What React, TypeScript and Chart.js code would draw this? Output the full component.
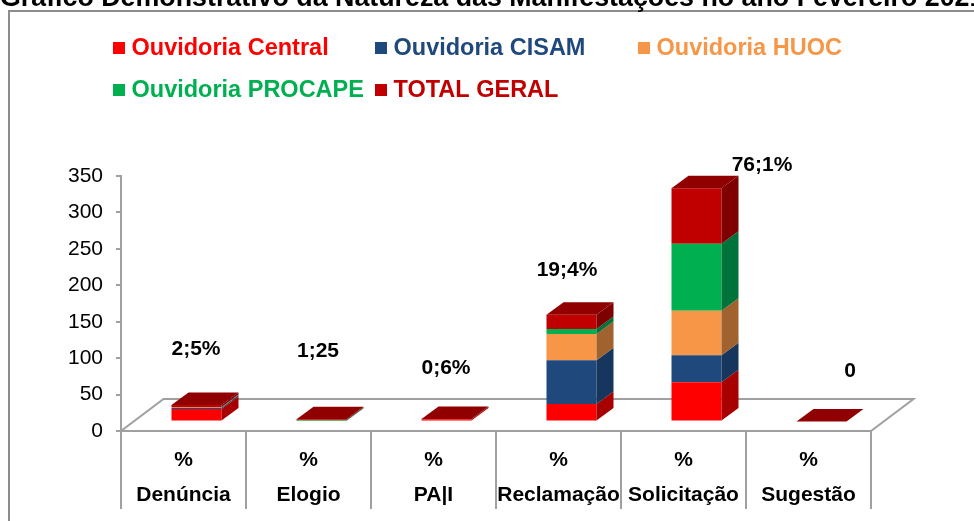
import React, { useEffect, useRef } from "react";
import { Chart, registerables } from "chart.js";

Chart.register(...registerables);

// ---------- data ----------
const TITLE = "Gráfico Demonstrativo da Natureza das Manifestações no ano Fevereiro 2021";
const CATEGORIES = ["Denúncia", "Elogio", "PA|I", "Reclamação", "Solicitação", "Sugestão"];
const CATEGORY_PREFIX = "%";
const SERIES_NAMES = ["Ouvidoria Central", "Ouvidoria CISAM", "Ouvidoria HUOC", "Ouvidoria PROCAPE", "TOTAL GERAL"];
const CENTRAL = [17, 0, 3, 24, 54, 0];
const CISAM = [2, 0, 0, 60, 37, 0];
const HUOC = [1, 1, 0, 36, 61, 0];
const PROCAPE = [0, 1, 0, 7, 92, 0];
const TOTAL_GERAL = [2.5, 1.25, 0.6, 19.4, 76.1, 0];
const TOTAL_LABELS = ["2;5%", "1;25", "0;6%", "19;4%", "76;1%", "0"];
const Y_MIN = 0;
const Y_MAX = 350;
const Y_STEP = 50;

// ---------- styles ----------
const FONT = "'Liberation Sans', Arial, sans-serif";
const FRONT = ["#FF0000", "#1F497D", "#F79646", "#00B050", "#C00000"];
const SIDE = ["#A80000", "#17365D", "#A0622E", "#00733A", "#7E0000"];
const TOPC = ["#D00000", "#1A3D68", "#C97A38", "#009444", "#900000"];
const AXIS_GRAY = "#A0A0A0";
const BAR_SHIFT = { x: 13, y: -9.5 };
const BAR_DEPTH = { x: 17, y: -12.5 };
const FLOOR_DEPTH = { x: 42.5, y: -32 };
const LABEL_OFFSETS = [
  [-0.5, -56],
  [-3.5, -68],
  [-0.5, -51],
  [-4.5, -45],
  [65.5, -23],
  [28.5, -50],
];
const LEGEND_COLS = [113, 375, 638];
const LEGEND_ROWS = [55, 97];

const pseudo3d = {
  id: "pseudo3d",
  beforeDraw(chart: any) {
    const ctx = chart.ctx as CanvasRenderingContext2D;
    ctx.save();
    ctx.fillStyle = "#ffffff";
    ctx.fillRect(0, 0, chart.width, chart.height);
    ctx.strokeStyle = "#8C8C8C";
    ctx.lineWidth = 2;
    ctx.strokeRect(9, 11, chart.width + 50, chart.height + 50);
    // title
    ctx.fillStyle = "#000";
    ctx.font = `bold 26.8px ${FONT}`;
    ctx.textAlign = "left";
    ctx.textBaseline = "alphabetic";
    ctx.fillText(TITLE, 0, 6);
    // legend
    ctx.font = `bold 23.5px ${FONT}`;
    SERIES_NAMES.forEach((name, i) => {
      const x = LEGEND_COLS[i % 3];
      const y = LEGEND_ROWS[Math.floor(i / 3)];
      ctx.fillStyle = FRONT[i];
      ctx.fillRect(x, y - 13, 12, 12);
      ctx.fillText(name, x + 18.5, y);
    });
    ctx.restore();
  },
  beforeDatasetsDraw(chart: any) {
    const ctx = chart.ctx as CanvasRenderingContext2D;
    const a = chart.chartArea;
    ctx.save();
    ctx.beginPath();
    ctx.moveTo(a.left, a.bottom);
    ctx.lineTo(a.right, a.bottom);
    ctx.lineTo(a.right + FLOOR_DEPTH.x, a.bottom + FLOOR_DEPTH.y);
    ctx.lineTo(a.left + FLOOR_DEPTH.x, a.bottom + FLOOR_DEPTH.y);
    ctx.closePath();
    ctx.fillStyle = "#fff";
    ctx.fill();
    ctx.strokeStyle = AXIS_GRAY;
    ctx.lineWidth = 2;
    ctx.stroke();
    ctx.restore();
    ctx.save();
    ctx.translate(BAR_SHIFT.x, BAR_SHIFT.y);
  },
  afterDatasetsDraw(chart: any) {
    const ctx = chart.ctx as CanvasRenderingContext2D;
    const n = chart.data.labels.length;
    const metas = chart.data.datasets.map((_: any, i: number) => chart.getDatasetMeta(i));
    const tops: { x: number; y: number }[] = [];
    for (let j = 0; j < n; j++) {
      metas.forEach((meta: any, d: number) => {
        const el = meta.data[j];
        const { x, y, base, width } = el.getProps(["x", "y", "base", "width"], true);
        const r = x + width / 2;
        const top = Math.min(y, base);
        const bot = Math.max(y, base);
        if (bot - top > 0) {
          ctx.fillStyle = SIDE[d];
          ctx.beginPath();
          ctx.moveTo(r, bot);
          ctx.lineTo(r, top);
          ctx.lineTo(r + BAR_DEPTH.x, top + BAR_DEPTH.y);
          ctx.lineTo(r + BAR_DEPTH.x, bot + BAR_DEPTH.y);
          ctx.closePath();
          ctx.fill();
        }
      });
      const lastIdx = metas.length - 1;
      const el = metas[lastIdx].data[j];
      const { x, y, base, width } = el.getProps(["x", "y", "base", "width"], true);
      const l = x - width / 2;
      const r = x + width / 2;
      const top = Math.min(y, base);
      ctx.fillStyle = TOPC[lastIdx];
      ctx.beginPath();
      ctx.moveTo(l, top);
      ctx.lineTo(l + BAR_DEPTH.x, top + BAR_DEPTH.y);
      ctx.lineTo(r + BAR_DEPTH.x, top + BAR_DEPTH.y);
      ctx.lineTo(r, top);
      ctx.closePath();
      ctx.fill();
      tops.push({ x: x + BAR_SHIFT.x, y: top + BAR_SHIFT.y });
    }
    ctx.restore();
    // data labels
    ctx.save();
    ctx.fillStyle = "#000";
    ctx.font = `bold 21px ${FONT}`;
    ctx.textAlign = "center";
    ctx.textBaseline = "middle";
    tops.forEach((t, j) => {
      const [dx, dy] = LABEL_OFFSETS[j];
      ctx.fillText(TOTAL_LABELS[j], t.x + dx, t.y + dy);
    });
    ctx.restore();
  },
};

export default function App() {
  const ref = useRef<HTMLCanvasElement>(null);
  useEffect(() => {
    document.body.style.margin = "0";
    const canvas = ref.current!;
    const series = [CENTRAL, CISAM, HUOC, PROCAPE, TOTAL_GERAL];
    const chart = new Chart(canvas, {
      type: "bar",
      data: {
        labels: CATEGORIES.map((c) => [CATEGORY_PREFIX, c]),
        datasets: series.map((s, i) => ({
          label: SERIES_NAMES[i],
          data: s,
          backgroundColor: FRONT[i],
          borderWidth: 0,
          categoryPercentage: 1,
          barPercentage: 0.4,
          clip: false as any,
        })),
      },
      options: {
        responsive: false,
        animation: false,
        devicePixelRatio: 1,
        events: [],
        layout: { padding: { left: 0, top: 176, right: 103, bottom: 0 } },
        plugins: {
          legend: { display: false },
          title: { display: false },
          tooltip: { enabled: false },
        },
        scales: {
          x: {
            stacked: true,
            offset: true,
            grid: {
              display: true,
              offset: true,
              drawOnChartArea: false,
              drawTicks: true,
              tickLength: 78,
              color: AXIS_GRAY,
              lineWidth: 2,
            },
            border: { display: false },
            ticks: {
              autoSkip: false,
              maxRotation: 0,
              minRotation: 0,
              padding: -66,
              color: "#000",
              font: { family: FONT, size: 21, weight: "bold", lineHeight: 1.667 },
            },
            afterFit: (s: any) => {
              s.height = 90;
            },
          },
          y: {
            stacked: true,
            min: Y_MIN,
            max: Y_MAX,
            ticks: {
              stepSize: Y_STEP,
              padding: 13,
              color: "#000",
              font: { family: FONT, size: 21 },
            },
            grid: {
              drawOnChartArea: false,
              tickLength: 5,
              color: AXIS_GRAY,
              lineWidth: 2,
            },
            border: { display: true, color: AXIS_GRAY, width: 2 },
            afterFit: (s: any) => {
              s.width = 121;
            },
          },
        },
      } as any,
      plugins: [pseudo3d],
    });
    return () => chart.destroy();
  }, []);
  return (
    <div style={{ position: "fixed", left: 0, top: 0, width: 974, height: 521 }}>
      <canvas ref={ref} width={974} height={521} style={{ display: "block" }} />
    </div>
  );
}
